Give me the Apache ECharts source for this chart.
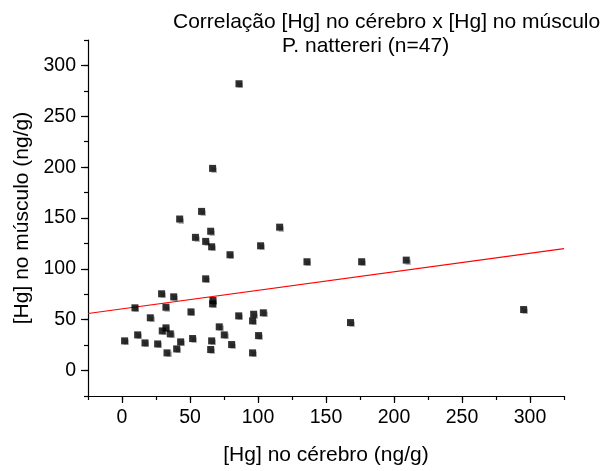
<!DOCTYPE html>
<html>
<head>
<meta charset="utf-8">
<script src="https://cdn.jsdelivr.net/npm/echarts@6/dist/echarts.min.js"></script>
<style>html,body{margin:0;padding:0;background:#fff}#c{width:608px;height:471px}</style>
</head>
<body>
<div id="c"></div>
<script>
// Data
const cerebro = [86, 66.6, 58.5, 42.4, 65.2, 115.9, 54, 61.5, 65.9, 79.4, 101.9, 136, 61.5, 29.1, 38, 9.5, 32.3, 66.9, 66.6, 50.7, 20.8, 85.8, 96.8, 96, 103.9, 32.3, 29.6, 35.5, 71.5, 75.2, 100.4, 1.9, 11.5, 16.9, 26.2, 43.1, 51.9, 65.9, 80.6, 33.1, 40.2, 65.2, 96, 176.2, 209, 168, 295.3];
const musculo = [282, 198.8, 156.5, 149, 137, 141, 131, 127, 121.7, 113.9, 122.7, 107, 90.2, 75.5, 72.5, 61.7, 62.3, 68.9, 65.6, 57.7, 51.9, 53.8, 55.4, 48.9, 56.8, 42, 39, 36.1, 43, 35.1, 34.4, 29.2, 35.1, 27.2, 26.2, 28.2, 31.5, 29.2, 25.6, 17.4, 21.3, 20.7, 17.4, 107, 108.6, 47.2, 60];
const fitX = [-25, 325];
const fitY = [56.1, 119.8];
const majorTicks = [0, 50, 100, 150, 200, 250, 300];
const titleLine1 = 'Correlação [Hg] no cérebro x [Hg] no músculo';
const titleLine2 = 'P. nattereri (n=47)';
const xName = '[Hg] no cérebro (ng/g)';
const yName = '[Hg] no músculo (ng/g)';

const font = 'Liberation Sans, Arial, Helvetica, sans-serif';
const points = cerebro.map((x, i) => [x, musculo[i]]);
const fitLine = fitX.map((x, i) => [x, fitY[i]]);

const majorAxis = (name, isY) => ({
  type: 'value', min: -25, max: 325,
  name: name, nameLocation: 'middle', nameGap: isY ? 54 : 49,
  nameTextStyle: { fontFamily: font, fontSize: 21, color: '#000' },
  axisLine: { show: true, onZero: false, lineStyle: { color: '#000', width: 1.2 } },
  axisTick: { show: true, inside: false, length: 7, lineStyle: { color: '#000', width: 1.2 }, customValues: majorTicks },
  axisLabel: { show: true, margin: 12, fontFamily: font, fontSize: 19.5, color: '#000', customValues: majorTicks },
  splitLine: { show: false }
});
const minorAxis = () => ({
  type: 'value', min: -25, max: 325, interval: 25,
  axisLine: { show: false, onZero: false },
  axisTick: { show: true, inside: false, length: 4, lineStyle: { color: '#000', width: 1.2 } },
  axisLabel: { show: false },
  splitLine: { show: false }
});

const xa0 = majorAxis(xName, false); xa0.position = 'bottom';
const xa1 = minorAxis(); xa1.position = 'bottom';
const ya0 = majorAxis(yName, true); ya0.position = 'left';
const ya1 = minorAxis(); ya1.position = 'left';

const chart = echarts.init(document.getElementById('c'));
chart.setOption({
  backgroundColor: '#fff',
  animation: false,
  title: [
    { text: titleLine1, left: 168, top: 7, textStyle: { fontFamily: font, fontSize: 21, fontWeight: 'normal', color: '#000' } },
    { text: titleLine2, left: 277, top: 31, textStyle: { fontFamily: font, fontSize: 21, fontWeight: 'normal', color: '#000' } }
  ],
  grid: { left: 88, right: 44, top: 40, bottom: 74, containLabel: false },
  xAxis: [xa0, xa1],
  yAxis: [ya0, ya1],
  series: [
    { type: 'line', data: fitLine, showSymbol: false, symbol: 'none', lineStyle: { color: '#ff0000', width: 1.2 }, z: 2 },
    { type: 'scatter', data: points, symbol: 'rect', symbolSize: 7,
      itemStyle: { color: '#000', shadowColor: 'rgba(0,0,0,0.35)', shadowOffsetX: 1, shadowOffsetY: 1, shadowBlur: 1 }, z: 3 }
  ]
});
</script>
</body>
</html>
